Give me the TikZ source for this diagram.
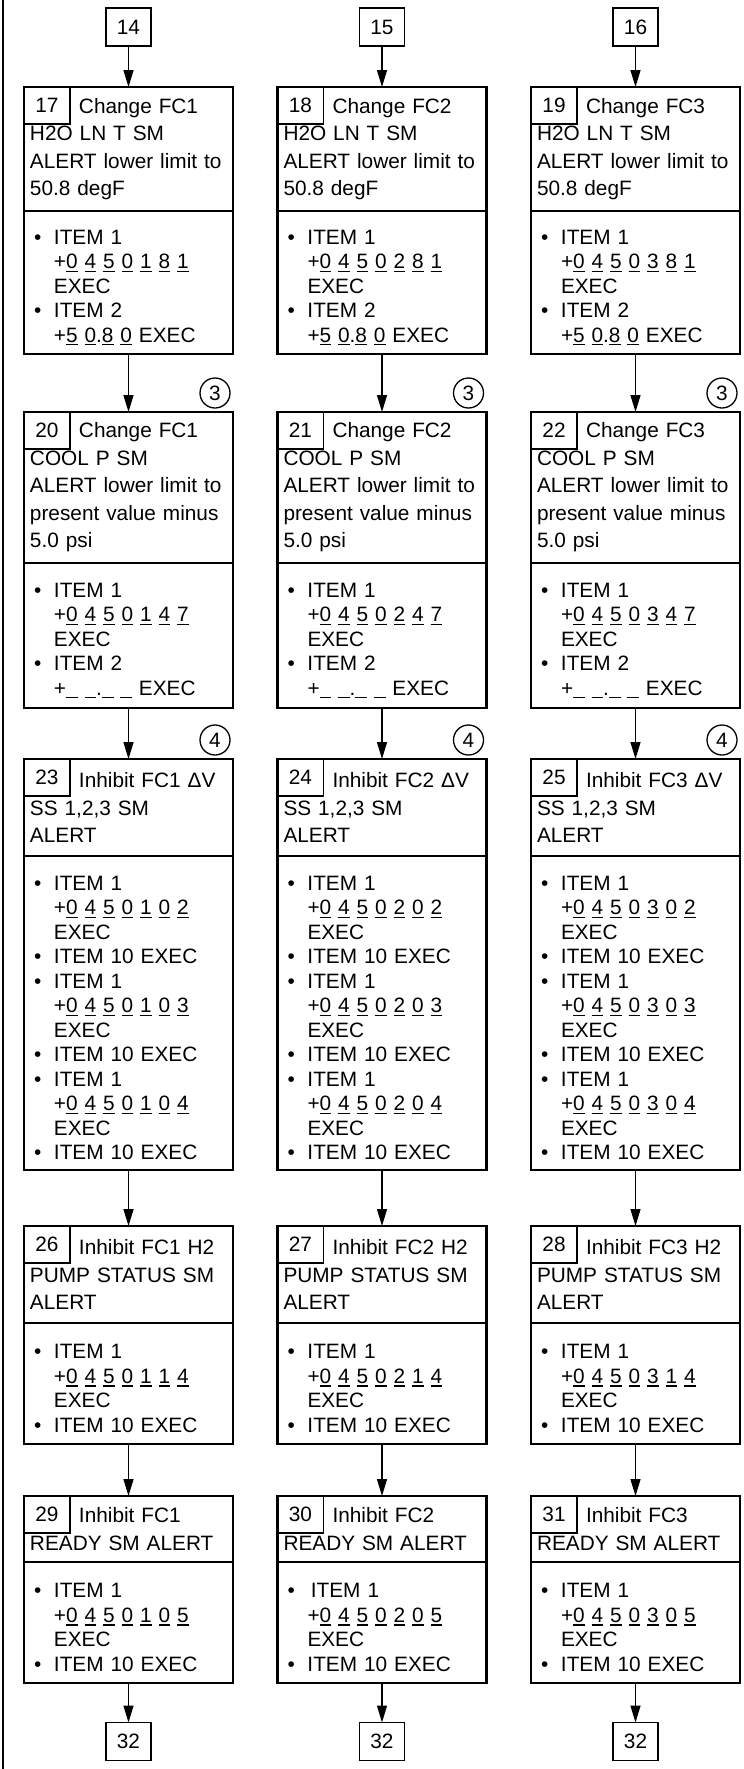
\documentclass[tikz,border=0pt]{standalone}
\usepackage{fontspec}
\setmainfont{Liberation Sans}
\usetikzlibrary{arrows.meta}

% cifra subrayada
\newcommand{\cif}[1]{\setbox0\hbox{#1}\rlap{\rule[-1.6pt]{\wd0}{0.65pt}}#1}
\newcommand{\vac}{\cif{\phantom{0}}}
\newcommand{\cod}[3]{+\cif{0} \cif{4} \cif{5} \cif{0} \cif{#1} \cif{#2} \cif{#3}}
% primera linea junto al numero
\newcommand{\enc}{\noindent\hspace*{24.5pt}}
% punto de la lista
\newcommand{\itm}[1]{\par\noindent\hangindent=12pt\hangafter=1\makebox[12pt][l]{\hspace{2pt}\textbullet}#1}

\begin{document}
\begin{tikzpicture}[x=0.5pt, y=-0.5pt,
  caja/.style={draw, rectangle, line width=1.15pt, outer sep=0pt, minimum width=104.5pt,
    text width=98.5pt, inner xsep=3pt, inner ysep=0pt, align=left, anchor=north},
  titulo/.style={caja, font=\fontsize{10.4}{13.75}\selectfont},
  lista/.style={caja, font=\fontsize{10.4}{12.25}\selectfont},
  numero/.style={draw, line width=0.65pt, outer sep=0pt, minimum width=23pt, minimum height=18.5pt,
    inner sep=0pt, anchor=north west, font=\fontsize{10.4}{12}\selectfont},
  ref/.style={draw, line width=0.7pt, outer sep=0pt, minimum width=22.5pt, minimum height=19pt,
    inner sep=0pt, font=\fontsize{10.4}{12}\selectfont},
  marca/.style={draw, circle, line width=0.65pt, outer sep=0pt, minimum size=15pt, inner sep=0pt,
    font=\fontsize{10.4}{12}\selectfont},
  flecha/.style={line width=0.65pt, -{Triangle[length=8.5pt,width=5pt]}}]
  \useasboundingbox (0,0) rectangle (744,1769);

  % Linea del margen
  \draw[line width=1.2pt] (2.8,0) -- (2.8,1769);

  \foreach \c/\x/\esp in {1/128.5/0, 2/382/1.7, 3/635.5/0} {
    \pgfmathtruncatemacro{\nA}{16+\c}
    \pgfmathtruncatemacro{\nB}{19+\c}
    \pgfmathtruncatemacro{\nC}{22+\c}
    \pgfmathtruncatemacro{\nD}{25+\c}
    \pgfmathtruncatemacro{\nE}{28+\c}

    % Entrada
    \node[ref] (in\c) at (\x,27) {\the\numexpr13+\c\relax};

    % H2O LN T
    \node[titulo, minimum height=62pt] (ta\c) at (\x,87)
      {\enc Change FC\c\\ H2O LN T SM\\ ALERT lower limit to\\ 50.8 degF};
    \node[numero] (na\c) at (ta\c.north west) {\nA};
    \node[lista, minimum height=71.5pt] (la\c) at (ta\c.south)
      {\itm{ITEM 1\newline \cod{\c}{8}{1}\newline EXEC}%
       \itm{ITEM 2\newline +\cif{5} \cif{0}.\cif{8} \cif{0} EXEC}\par};

    % COOL P
    \node[marca] (m3\c) at (\x+86.5,393) {3};
    \node[titulo, minimum height=75.5pt] (tb\c) at (\x,412)
      {\enc Change FC\c\\ COOL P SM\\ ALERT lower limit to\\ present value minus\\ 5.0 psi};
    \node[numero] (nb\c) at (tb\c.north west) {\nB};
    \node[lista, minimum height=72.5pt] (lb\c) at (tb\c.south)
      {\itm{ITEM 1\newline \cod{\c}{4}{7}\newline EXEC}%
       \itm{ITEM 2\newline +\vac{} \vac.\vac{} \vac{} EXEC}\par};

    % Delta V
    \node[marca] (m4\c) at (\x+86.5,740) {4};
    \node[titulo, minimum height=48.5pt] (tc\c) at (\x,759)
      {\enc Inhibit FC\c{} ΔV\\ SS 1,2,3 SM\\ ALERT};
    \node[numero] (nc\c) at (tc\c.north west) {\nC};
    \node[lista, minimum height=157pt] (lc\c) at (tc\c.south)
      {\itm{ITEM 1\newline \cod{\c}{0}{2}\newline EXEC}%
       \itm{ITEM 10 EXEC}%
       \itm{ITEM 1\newline \cod{\c}{0}{3}\newline EXEC}%
       \itm{ITEM 10 EXEC}%
       \itm{ITEM 1\newline \cod{\c}{0}{4}\newline EXEC}%
       \itm{ITEM 10 EXEC}\par};

    % H2 PUMP
    \node[titulo, minimum height=48.5pt] (td\c) at (\x,1226)
      {\enc Inhibit FC\c{} H2\\ PUMP STATUS SM\\ ALERT};
    \node[numero] (nd\c) at (td\c.north west) {\nD};
    \node[lista, minimum height=60.5pt] (ld\c) at (td\c.south)
      {\itm{ITEM 1\newline \cod{\c}{1}{4}\newline EXEC}%
       \itm{ITEM 10 EXEC}\par};

    % READY
    \node[titulo, minimum height=33pt] (te\c) at (\x,1496)
      {\enc Inhibit FC\c\\ READY SM ALERT};
    \node[numero] (ne\c) at (te\c.north west) {\nE};
    \node[lista, minimum height=60.5pt] (le\c) at (te\c.south)
      {\itm{\hspace{\esp pt}ITEM 1\newline \cod{\c}{0}{5}\newline EXEC}%
       \itm{ITEM 10 EXEC}\par};

    % Salida
    \node[ref] (out\c) at (\x,1741.5) {32};

    % Flechas
    \draw[flecha] (in\c) -- (ta\c);
    \draw[flecha] (la\c) -- (tb\c);
    \draw[flecha] (lb\c) -- (tc\c);
    \draw[flecha] (lc\c) -- (td\c);
    \draw[flecha] (ld\c) -- (te\c);
    \draw[flecha] (le\c) -- (out\c);
  }
\end{tikzpicture}
\end{document}
